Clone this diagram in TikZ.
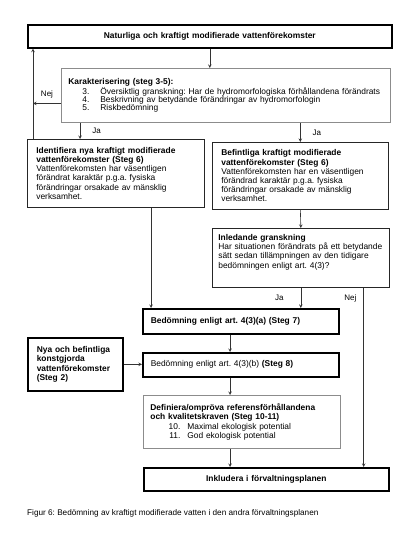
\documentclass[tikz,border=0pt]{standalone}
\usepackage{fontspec}
\setmainfont{Liberation Sans}
\usetikzlibrary{positioning, calc}
\tikzstyle{thickbox} = [rectangle, draw=black, line width=1.6pt, anchor=north west, align=left, inner ysep=0pt]
\tikzstyle{thinbox} = [rectangle, draw=black!85, line width=0.7pt, anchor=north west, align=left, inner ysep=0pt]
\tikzstyle{graybox} = [rectangle, draw=black!45, line width=0.8pt, anchor=north west, align=left, inner ysep=0pt]
\tikzstyle{arrow} = [-stealth, draw=black!80, line width=0.6pt]
\tikzstyle{lbl} = [font=\fontsize{8}{9}\selectfont, inner sep=1pt]
\newcommand{\listitem}[4]{\mbox{\makebox[#1][r]{#3.}\hspace{#2}#4}}
\frenchspacing

\begin{document}
\begin{tikzpicture}[x=1pt, y=-1pt, font=\fontsize{8.4}{9.2}\selectfont]
		\useasboundingbox (0,0) rectangle (405,540);
		% boxes
		\node (nat)[thickbox, align=center, text width=350pt, inner xsep=7pt, minimum height=23pt, font=\fontsize{8.4}{9.2}\selectfont\bfseries] at (27,24) {Naturliga och kraftigt modifierade vattenförekomster};
		\node (kar)[graybox, text width=315pt, inner xsep=7pt, minimum height=54pt, font=\fontsize{8.4}{8}\selectfont] at (61,68) {\textbf{Karakterisering (steg 3-5):}\\ \listitem{21pt}{11pt}{3}{Översiktlig granskning: Har de hydromorfologiska förhållandena förändrats}\\ \listitem{21pt}{11pt}{4}{Beskrivning av betydande förändringar av hydromorfologin}\\ \listitem{21pt}{11pt}{5}{Riskbedömning}};
		\node (ide)[thinbox, text width=159pt, inner xsep=9pt, minimum height=68pt] at (27,139) {\textbf{Identifiera nya kraftigt modifierade}\\ \textbf{vattenförekomster (Steg 6)}\\ Vattenförekomsten har väsentligen\\ förändrat karaktär p.g.a. fysiska\\ förändringar orsakade av mänsklig\\ verksamhet.};
		\node (bef)[thinbox, text width=158pt, inner xsep=9pt, minimum height=67pt] at (212,142) {\textbf{Befintliga kraftigt modifierade}\\ \textbf{vattenförekomster (Steg 6)}\\ Vattenförekomsten har en väsentligen\\ förändrad karaktär p.g.a. fysiska\\ förändringar orsakade av mänsklig\\ verksamhet.};
		\node (inl)[thinbox, text width=165pt, inner xsep=6pt, minimum height=59pt] at (212,228) {\textbf{Inledande granskning}\\ \mbox{Har situationen förändrats på ett betydande}\\ sätt sedan tillämpningen av den tidigare\\ bedömningen enligt art. 4(3)?\\[4pt] \mbox{}};
		\node (bed7)[thickbox, text width=180pt, inner xsep=8pt, minimum height=25pt, font=\fontsize{8.4}{9.2}\selectfont\bfseries] at (142,308) {Bedömning enligt art. 4(3)(a) (Steg 7)};
		\node (bed8)[thickbox, text width=180pt, inner xsep=8pt, minimum height=24pt] at (142,352) {Bedömning enligt art. 4(3)(b) \textbf{(Steg 8)}};
		\node (nya)[thickbox, text width=77pt, inner xsep=9pt, minimum height=53pt, font=\fontsize{8.4}{9.2}\selectfont\bfseries] at (27,337) {Nya och befintliga\\ konstgjorda\\ vattenförekomster\\ (Steg 2)};
		\node (def)[graybox, text width=183pt, inner xsep=7pt, minimum height=53pt] at (143,395) {\textbf{Definiera/ompröva referensförhållandena}\\ \textbf{och kvalitetskraven (Steg 10-11)}\\ \listitem{30pt}{7pt}{10}{Maximal ekologisk potential}\\ \listitem{30pt}{7pt}{11}{God ekologisk potential}};
		\node (ink)[thickbox, align=center, text width=231pt, inner xsep=7pt, minimum height=23pt, font=\fontsize{8.4}{9.2}\selectfont\bfseries] at (143,467) {Inkludera i förvaltningsplanen};
		\node (cap)[anchor=west, inner sep=0pt, font=\fontsize{8.2}{9}\selectfont] at (27,513) {Figur 6: Bedömning av kraftigt modifierade vatten i den andra förvaltningsplanen};
		% helper points
		\coordinate (nejL) at ([xshift=6pt]ide.north west);
		\coordinate (nejK) at ([yshift=-8pt]kar.west);
		\coordinate (jaL) at ([xshift=19pt]kar.south west);
		\coordinate (ideB) at ([xshift=9pt]bed7.north west);
		\coordinate (nejI) at ([xshift=-26pt]inl.south east);
		\coordinate (mid) at ([xshift=88pt]bed7.south west);
		% connectors
		\draw [arrow] (nat.south) -- (nat.south |- kar.north);
		\draw [arrow] (nejK) -- (nejK -| nejL) node[lbl, midway, above=4pt]{Nej};
		\draw [arrow] (nejL) -- (nejL |- nat.south);
		\draw [arrow] (jaL) -- (jaL |- ide.north) node[lbl, midway, right=11pt]{Ja};
		\draw [arrow] (bef.north |- kar.south) -- (bef.north) node[lbl, midway, right=11pt]{Ja};
		\draw [arrow] (bef.south) -- (inl.north);
		\draw [arrow] (ideB |- ide.south) -- (ideB);
		\draw [arrow] (inl.south) -- (inl.south |- bed7.north) node[lbl, midway, left=16pt]{Ja};
		\draw [arrow] (nejI) -- (nejI |- ink.north) node[lbl, pos=0.06, left=6pt]{Nej};
		\draw [arrow] (mid) -- (mid |- bed8.north);
		\draw [arrow] (mid |- bed8.south) -- (mid |- def.north);
		\draw [arrow] (mid |- def.south) -- (mid |- ink.north);
		\draw [arrow] (nya.east) -- (nya.east -| bed8.west);
	\end{tikzpicture}
\end{document}
